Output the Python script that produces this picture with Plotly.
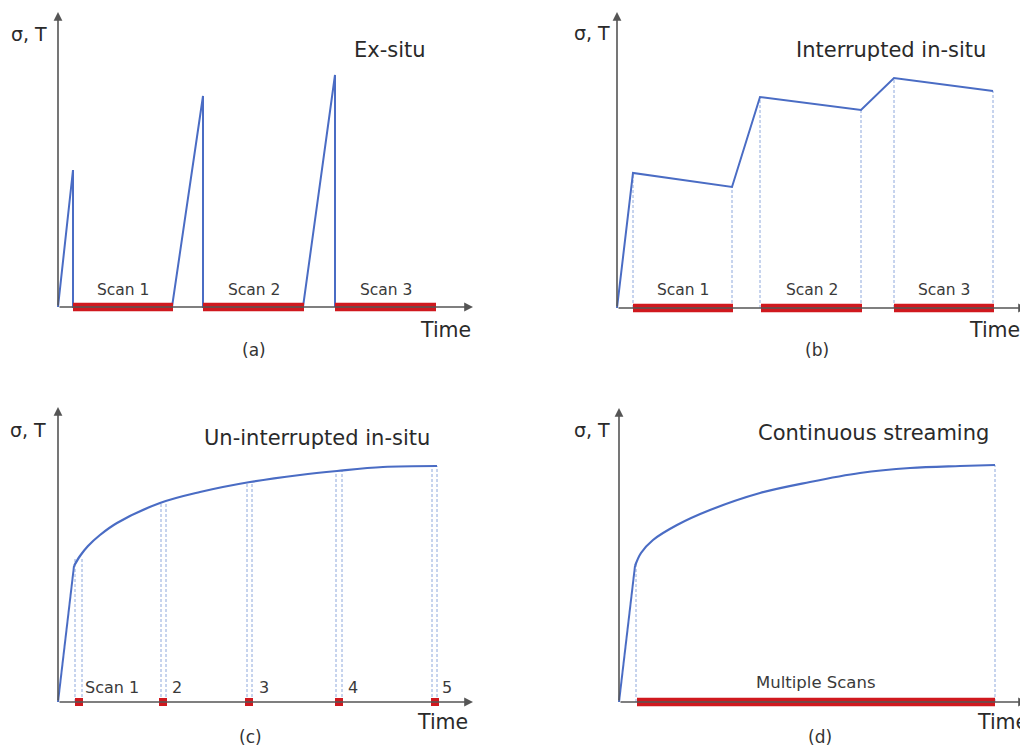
import plotly.graph_objects as go

# The page body has an 8px default margin; the figure is sized to fill the rest.
PAGE_OFF = 8
W, H = 1028 - PAGE_OFF, 751 - PAGE_OFF
PX_PER_UNIT = 10.0

# ---------------- data (arbitrary units: time, sigma/T) ----------------
# (a) Ex-situ
a_time = [0, 1.5, 1.5, 11.4, 14.5, 14.5, 24.5, 27.7, 27.7]
a_val = [0, 13.7, 0, 0, 21.1, 0, 0, 23.2, 0]
a_scan_start = [1.5, 14.5, 27.7]
a_scan_end = [11.5, 24.6, 37.8]
a_scan_labels = ["Scan 1", "Scan 2", "Scan 3"]

# (b) Interrupted in-situ
b_time = [0, 1.6, 11.5, 14.3, 24.4, 27.7, 37.6]
b_val = [0, 13.5, 12.1, 21.1, 19.8, 23.0, 21.7]
b_scan_start = [1.6, 14.4, 27.7]
b_scan_end = [11.6, 24.5, 37.7]
b_scan_labels = ["Scan 1", "Scan 2", "Scan 3"]

# (c) Un-interrupted in-situ
c_ramp_time = [0, 1.6]
c_ramp_val = [0, 13.6]
c_time = [1.6, 2.2, 3.0, 4.2, 5.9, 10.2, 14.2, 19.2, 24.2, 27.9, 32.5, 37.9]
c_val = [13.6, 14.6, 15.6, 16.7, 17.9, 19.9, 21.0, 22.0, 22.7, 23.1, 23.5, 23.6]
c_scan_time = [2.1, 10.5, 19.1, 28.1, 37.7]
c_dash_left = [1.7, 10.3, 18.9, 27.8, 37.4]
c_dash_right = [2.4, 10.8, 19.4, 28.4, 37.9]
c_dash_top = [14.3, 20.0, 22.0, 23.1, 23.6]
c_scan_labels = ["Scan 1", "2", "3", "4", "5"]
c_label_x = [2.5, 11.2, 19.9, 28.8, 38.2]

# (d) Continuous streaming
d_ramp_time = [0, 1.6]
d_ramp_val = [0, 13.6]
d_time = [1.6, 2.2, 3.4, 5.8, 9.1, 14.1, 19.1, 24.1, 29.1, 34.1, 37.6]
d_val = [13.6, 14.9, 16.2, 17.7, 19.2, 20.9, 22.0, 22.9, 23.4, 23.6, 23.7]
d_scan_start = [1.8]
d_scan_end = [37.6]
d_dash_x = [1.7, 37.6]
d_dash_top = [13.8, 23.7]
d_scan_labels = ["Multiple Scans"]

# ---------------- styling ----------------
BLUE = "#4a6cc4"
RED = "#d0181e"
DASH = "#8ea8dc"
AXIS = "#555555"
TXT = "#2a2a2a"
FONT = "'DejaVu Sans', sans-serif"

# panel geometry in reference-page pixels: origin and arrow heads
panels = [
    dict(ox=58, oy=307, xhead=473, yhead=12),
    dict(ox=617, oy=308, xhead=1036, yhead=12),
    dict(ox=58, oy=702, xhead=473, yhead=407),
    dict(ox=619, oy=702, xhead=1036, yhead=408),
]

fig = go.Figure()
layout = dict(
    width=W, height=H, margin=dict(l=0, r=0, t=0, b=0),
    paper_bgcolor="white", plot_bgcolor="white", showlegend=False,
)
annotations = []


def ppx(px):
    return (px - PAGE_OFF) / W


def ppy(py):
    return 1 - (py - PAGE_OFF) / H


for i, p in enumerate(panels, start=1):
    left = p["ox"] - 15
    right = min(p["ox"] + 450, W + PAGE_OFF)
    top = p["oy"] - 295
    bottom = p["oy"] + 15
    xr = [(left - p["ox"]) / PX_PER_UNIT, (right - p["ox"]) / PX_PER_UNIT]
    yr = [(p["oy"] - bottom) / PX_PER_UNIT, (p["oy"] - top) / PX_PER_UNIT]
    sfx = "" if i == 1 else str(i)
    layout["xaxis" + sfx] = dict(domain=[ppx(left), ppx(right)], range=xr, visible=False,
                                 anchor="y" + sfx, fixedrange=True)
    layout["yaxis" + sfx] = dict(domain=[ppy(bottom), ppy(top)], range=yr, visible=False,
                                 anchor="x" + sfx, fixedrange=True)
    # axis arrows
    annotations.append(dict(xref="paper", yref="paper", x=ppx(p["xhead"]), y=ppy(p["oy"]),
                            ax=p["ox"] - p["xhead"], ay=0, text="", showarrow=True,
                            arrowhead=2, arrowsize=1.1, arrowwidth=1.6, arrowcolor=AXIS))
    annotations.append(dict(xref="paper", yref="paper", x=ppx(p["ox"]), y=ppy(p["yhead"]),
                            ax=0, ay=p["oy"] - p["yhead"], text="", showarrow=True,
                            arrowhead=2, arrowsize=1.1, arrowwidth=1.6, arrowcolor=AXIS))


def ax(i):
    return ("x" if i == 1 else "x%d" % i), ("y" if i == 1 else "y%d" % i)


def dashed(xs, tops):
    X, Y = [], []
    for x, t in zip(xs, tops):
        X += [x, x, None]
        Y += [0, t, None]
    return X, Y


def bars(starts, ends):
    X, Y = [], []
    for s, e in zip(starts, ends):
        X += [s, e, None]
        Y += [0, 0, None]
    return X, Y


LABEL_FONT = dict(family=FONT, size=15.5, color="#3a3a3a")

# ---- (a)
xa, ya = ax(1)
fig.add_trace(go.Scatter(x=a_time, y=a_val, mode="lines", line=dict(color=BLUE, width=2),
                         xaxis=xa, yaxis=ya, hoverinfo="skip"))
bx, by = bars(a_scan_start, a_scan_end)
fig.add_trace(go.Scatter(x=bx, y=by, mode="lines", line=dict(color=RED, width=8.5),
                         xaxis=xa, yaxis=ya, hoverinfo="skip"))
for s, e, lab in zip(a_scan_start, a_scan_end, a_scan_labels):
    annotations.append(dict(xref="x", yref="y", x=(s + e) / 2, y=1.7, text=lab, showarrow=False,
                            xanchor="center", yanchor="middle", font=LABEL_FONT))

# ---- (b)
xb, yb = ax(2)
dx, dy = dashed(b_time[1:], b_val[1:])
fig.add_trace(go.Scatter(x=dx, y=dy, mode="lines", line=dict(color=DASH, width=1, dash="3px,2px"),
                         xaxis=xb, yaxis=yb, hoverinfo="skip"))
fig.add_trace(go.Scatter(x=b_time, y=b_val, mode="lines", line=dict(color=BLUE, width=2),
                         xaxis=xb, yaxis=yb, hoverinfo="skip"))
bx, by = bars(b_scan_start, b_scan_end)
fig.add_trace(go.Scatter(x=bx, y=by, mode="lines", line=dict(color=RED, width=8.5),
                         xaxis=xb, yaxis=yb, hoverinfo="skip"))
for s, e, lab in zip(b_scan_start, b_scan_end, b_scan_labels):
    annotations.append(dict(xref="x2", yref="y2", x=(s + e) / 2, y=1.8, text=lab, showarrow=False,
                            xanchor="center", yanchor="middle", font=LABEL_FONT))

# ---- (c)
xc, yc = ax(3)
dx, dy = dashed(c_dash_left + c_dash_right, c_dash_top + c_dash_top)
fig.add_trace(go.Scatter(x=dx, y=dy, mode="lines", line=dict(color=DASH, width=1, dash="3px,2px"),
                         xaxis=xc, yaxis=yc, hoverinfo="skip"))
fig.add_trace(go.Scatter(x=c_ramp_time, y=c_ramp_val, mode="lines", line=dict(color=BLUE, width=2),
                         xaxis=xc, yaxis=yc, hoverinfo="skip"))
fig.add_trace(go.Scatter(x=c_time, y=c_val, mode="lines", line=dict(color=BLUE, width=2.2, shape="spline"),
                         xaxis=xc, yaxis=yc, hoverinfo="skip"))
fig.add_trace(go.Scatter(x=c_scan_time, y=[0] * len(c_scan_time), mode="markers",
                         marker=dict(symbol="square", size=8, color=RED), cliponaxis=False,
                         xaxis=xc, yaxis=yc, hoverinfo="skip"))
for xl, lab in zip(c_label_x, c_scan_labels):
    annotations.append(dict(xref="x3", yref="y3", x=xl, y=1.5, text=lab, showarrow=False,
                            xanchor="left", yanchor="middle",
                            font=dict(family=FONT, size=16, color="#3a3a3a")))

# ---- (d)
xd, yd = ax(4)
dx, dy = dashed(d_dash_x, d_dash_top)
fig.add_trace(go.Scatter(x=dx, y=dy, mode="lines", line=dict(color=DASH, width=1, dash="3px,2px"),
                         xaxis=xd, yaxis=yd, hoverinfo="skip"))
fig.add_trace(go.Scatter(x=d_ramp_time, y=d_ramp_val, mode="lines", line=dict(color=BLUE, width=2),
                         xaxis=xd, yaxis=yd, hoverinfo="skip"))
fig.add_trace(go.Scatter(x=d_time, y=d_val, mode="lines", line=dict(color=BLUE, width=2.2, shape="spline"),
                         xaxis=xd, yaxis=yd, hoverinfo="skip"))
bx, by = bars(d_scan_start, d_scan_end)
fig.add_trace(go.Scatter(x=bx, y=by, mode="lines", line=dict(color=RED, width=8.5),
                         xaxis=xd, yaxis=yd, hoverinfo="skip"))
for s, e, lab in zip(d_scan_start, d_scan_end, d_scan_labels):
    annotations.append(dict(xref="x4", yref="y4", x=(s + e) / 2, y=2.0, text=lab, showarrow=False,
                            xanchor="center", yanchor="middle",
                            font=dict(family=FONT, size=16.5, color="#3a3a3a")))

# ---- panel texts (reference pixel positions -> paper)
titles = ["Ex-situ", "Interrupted in-situ", "Un-interrupted in-situ", "Continuous streaming"]
title_pos = [(390, 50), (891, 50), (317, 438), (873, 433)]
ylabel_pos = [(29, 34), (592, 33), (28, 430), (592, 430)]
time_pos = [(445, 330), (994, 330), (442, 722), (1002, 722)]
sub_labels = ["(a)", "(b)", "(c)", "(d)"]
sub_pos = [(254, 350), (817, 350), (250, 737), (820, 737)]


def text_ann(t, x, y, size, color=TXT):
    return dict(xref="paper", yref="paper", x=ppx(x), y=ppy(y), text=t, showarrow=False,
                xanchor="center", yanchor="middle", font=dict(family=FONT, size=size, color=color))


for t, (x, y) in zip(titles, title_pos):
    annotations.append(text_ann(t, x, y, 21))
for (x, y) in ylabel_pos:
    annotations.append(text_ann("σ, T", x, y, 19))
for (x, y) in time_pos:
    annotations.append(text_ann("Time", x, y, 20.5))
for t, (x, y) in zip(sub_labels, sub_pos):
    annotations.append(text_ann(t, x, y, 17, "#333333"))

layout["annotations"] = annotations
fig.update_layout(**layout)
fig.write_html("out.html")
